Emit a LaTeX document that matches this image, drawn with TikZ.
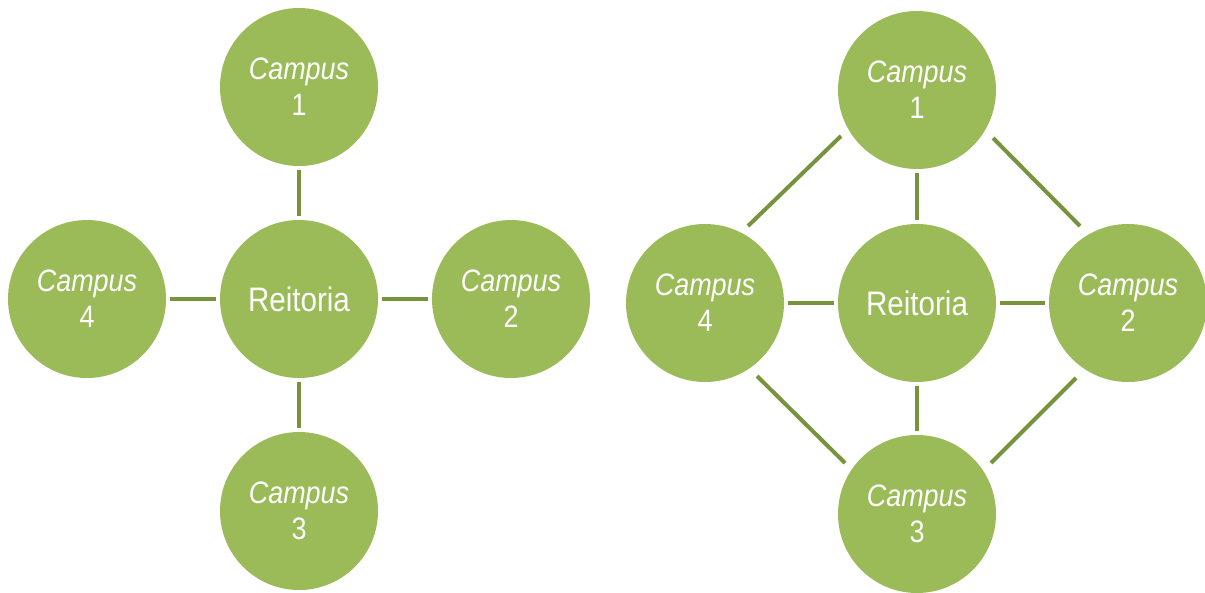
\documentclass[tikz,border=0pt]{standalone}
\usepackage{fontspec}
\setmainfont{Liberation Sans}[FakeStretch=0.87]
\usetikzlibrary{calc}
\definecolor{fillgreen}{HTML}{9BBB59}
\definecolor{linegreen}{HTML}{77933C}
\tikzset{
  site/.style={circle, fill=fillgreen, draw=none, minimum size=158pt, inner sep=0pt,
    align=center, text=white, font=\fontsize{31}{36}\selectfont},
  hub/.style={site, font=\fontsize{34}{38}\selectfont},
  link/.style={draw=linegreen, line width=4pt},
  gap/.style={shorten >=4pt, shorten <=4pt}
}
\begin{document}
\begin{tikzpicture}[x=1pt,y=-1pt]
\useasboundingbox (0,0) rectangle (1205,592);
% left diagram
\node[hub]  (lr) at (299,299) {Reitoria};
\node[site] (l1) at (299,87)  {\textit{Campus}\\1};
\node[site] (l2) at (511,299) {\textit{Campus}\\2};
\node[site] (l3) at (299,511) {\textit{Campus}\\3};
\node[site] (l4) at (87,299)  {\textit{Campus}\\4};
\draw[link,gap] (l1) -- (lr);
\draw[link,gap] (l2) -- (lr);
\draw[link,gap] (l3) -- (lr);
\draw[link,gap] (l4) -- (lr);
% right diagram
\node[hub]  (rr) at (917,303) {Reitoria};
\node[site] (r1) at (917,90)  {\textit{Campus}\\1};
\node[site] (r2) at (1128,303) {\textit{Campus}\\2};
\node[site] (r3) at (917,514) {\textit{Campus}\\3};
\node[site] (r4) at (705,303) {\textit{Campus}\\4};
\draw[link,gap] (r1) -- (rr);
\draw[link,gap] (r2) -- (rr);
\draw[link,gap] (r3) -- (rr);
\draw[link,gap] (r4) -- (rr);
\draw[link] ($(r4)+(43,-77)$) -- ($(r1)+(-76,46)$);
\draw[link] ($(r1)+(76,48)$) -- ($(r2)+(-48,-77)$);
\draw[link] ($(r4)+(52,73)$) -- ($(r3)+(-72,-51)$);
\draw[link] ($(r3)+(74,-51)$) -- ($(r2)+(-52,75)$);
\end{tikzpicture}
\end{document}
